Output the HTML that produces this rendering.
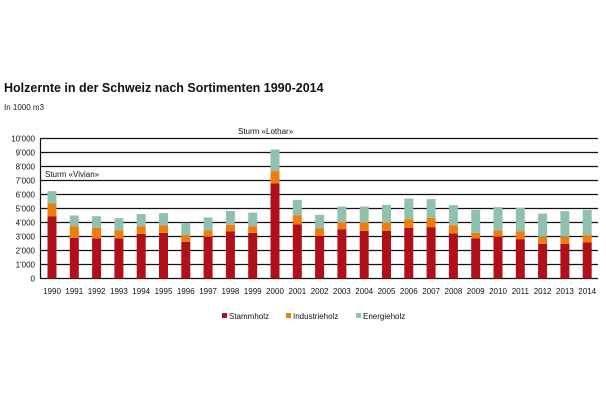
<!DOCTYPE html>
<html><head><meta charset="utf-8"><style>
html,body{margin:0;padding:0;background:#fff;}
svg{display:block;font-family:"Liberation Sans",sans-serif;}
</style></head><body>
<svg width="606" height="402" viewBox="0 0 606 402" xmlns="http://www.w3.org/2000/svg">
<rect width="606" height="402" fill="#fff"/>
<text x="4" y="92" font-size="12.5" font-weight="bold" fill="#111">Holzernte in der Schweiz nach Sortimenten 1990-2014</text>
<text x="4" y="110" font-size="8" fill="#222">In 1000 m3</text>
<g id="grid" stroke="#111" stroke-width="1.2"></g>
<g id="bars"></g>
<g id="lbl" font-size="8" fill="#111"></g>
<text x="238" y="134" font-size="8" fill="#111">Sturm «Lothar»</text>
<text x="45" y="177" font-size="8" fill="#111">Sturm «Vivian»</text>
<rect x="222" y="313" width="5" height="5" fill="#b0101a"/>
<text x="229" y="319" font-size="8" fill="#111">Stammholz</text>
<rect x="286" y="313" width="5" height="5" fill="#ee7d10"/>
<text x="293" y="319" font-size="8" fill="#111">Industrieholz</text>
<rect x="356" y="313" width="5" height="5" fill="#8fc1ad"/>
<text x="363" y="319" font-size="8" fill="#111">Energieholz</text>
<script>
var d=[[4.45,5.36,6.24],[2.9,3.74,4.5],[2.87,3.62,4.45],[2.87,3.45,4.31],[3.19,3.74,4.6],[3.26,3.79,4.67],[2.62,3.1,3.98],[2.98,3.43,4.36],[3.36,3.83,4.83],[3.26,3.74,4.71],[6.79,7.67,9.21],[3.86,4.5,5.62],[3.05,3.57,4.55],[3.52,4.0,5.14],[3.4,4.0,5.14],[3.4,4.0,5.26],[3.62,4.24,5.71],[3.67,4.33,5.67],[3.21,3.81,5.24],[2.86,3.26,4.9],[2.98,3.45,5.1],[2.81,3.36,5.05],[2.48,2.98,4.64],[2.48,2.98,4.81],[2.57,3.1,4.9]];
var ns="http://www.w3.org/2000/svg";
function el(p,t,a,txt){var e=document.createElementNS(ns,t);for(var k in a)e.setAttribute(k,a[k]);if(txt!=null)e.textContent=txt;document.getElementById(p).appendChild(e);}
function Y(v){return 278.5-14*v;}
for(var i=0;i<=10;i++){el('grid','line',{x1:40,x2:598,y1:Y(i),y2:Y(i)});
el('lbl','text',{x:35,y:Y(i)+3,'text-anchor':'end'},i==0?'0':(i+"'000"));}
el('grid','line',{x1:40.5,x2:40.5,y1:Y(10),y2:Y(0)});
var cols=['#b0101a','#ee7d10','#8fc1ad'];
for(var j=0;j<25;j++){var cx=52+j*22.3;var prev=0;
for(var s=0;s<3;s++){var v=d[j][s];el('bars','rect',{x:cx-4.5,y:Y(v),width:9,height:Y(prev)-Y(v),fill:cols[s]});prev=v;}
el('lbl','text',{x:cx,y:294,'text-anchor':'middle'},String(1990+j));}
</script>
</svg>
</body></html>
